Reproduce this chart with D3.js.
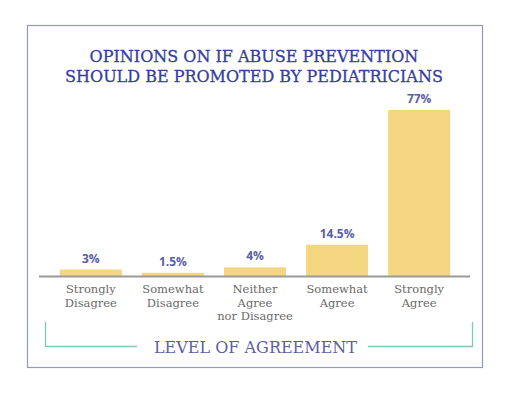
<!DOCTYPE html>
<html>
<head>
<meta charset="utf-8">
<script src="https://cdn.jsdelivr.net/npm/d3@7"></script>
<style>
  body { margin: 0; background: #fff; }
  svg { display: block; }
</style>
</head>
<body>
<div id="chart"></div>
<script>
const categories = [
    ["Strongly", "Disagree"],
    ["Somewhat", "Disagree"],
    ["Neither", "Agree", "nor Disagree"],
    ["Somewhat", "Agree"],
    ["Strongly", "Agree"]
];
const values = [3, 1.5, 4, 14.5, 77];
const valueLabels = ["3%", "1.5%", "4%", "14.5%", "77%"];
const titleLines = ["OPINIONS ON IF ABUSE PREVENTION", "SHOULD BE PROMOTED BY PEDIATRICIANS"];
const axisTitle = "LEVEL OF AGREEMENT";

const width = 512;
const height = 394;
const baseline = 276;

const colorBar = "#f5d680";
const colorTitle = "#34409a";
const colorValue = "#5a5ea8";
const colorCat = "#6a6a6a";
const colorBracket = "#80c6b9";

const svg = d3.select("#chart").append("svg")
    .attr("width", width)
    .attr("height", height);

// frame
svg.append("rect")
    .attr("x", 27.5)
    .attr("y", 25.5)
    .attr("width", 455)
    .attr("height", 342)
    .attr("fill", "none")
    .attr("stroke", "#8f98cb")
    .attr("stroke-width", 1.2);

svg.append("g")
    .selectAll("text")
    .data(titleLines)
    .enter()
    .append("text")
    .attr("x", 254)
    .attr("y", (d, i) => 62 + i * 20)
    .attr("text-anchor", "middle")
    .style("font-family", "'DejaVu Serif', serif")
    .style("font-size", "16px")
    .attr("fill", colorTitle)
    .attr("stroke", colorTitle)
    .attr("stroke-width", 0.3)
    .text(d => d);

const x = d3.scaleBand()
    .domain(d3.range(values.length))
    .range([50, 460])
    .paddingInner(0.245)
    .paddingOuter(0.12);

const y = d3.scaleLinear()
    .domain([0, 77])
    .range([baseline, 110]);

svg.append("g")
    .selectAll("rect")
    .data(values)
    .enter()
    .append("rect")
    .attr("x", (d, i) => x(i))
    .attr("y", d => y(d))
    .attr("width", x.bandwidth())
    .attr("height", d => baseline - y(d))
    .attr("fill", colorBar);

svg.append("line")
    .attr("x1", 39)
    .attr("x2", 470)
    .attr("y1", baseline + 0.5)
    .attr("y2", baseline + 0.5)
    .attr("stroke", "#9a9a9a")
    .attr("stroke-width", 1.8);

svg.append("g")
    .selectAll("text")
    .data(values)
    .enter()
    .append("text")
    .attr("x", (d, i) => x(i) + x.bandwidth() / 2)
    .attr("y", d => y(d) - 7)
    .attr("text-anchor", "middle")
    .style("font-family", "'Open Sans', sans-serif")
    .style("font-weight", "bold")
    .style("font-size", "12px")
    .attr("fill", colorValue)
    .text((d, i) => valueLabels[i]);

const catLabels = svg.append("g")
    .selectAll("text")
    .data(categories)
    .enter()
    .append("text")
    .attr("x", (d, i) => x(i) + x.bandwidth() / 2)
    .attr("y", 293)
    .attr("text-anchor", "middle")
    .style("font-family", "'DejaVu Serif', serif")
    .style("font-size", "11.5px")
    .attr("fill", colorCat);

catLabels.selectAll("tspan")
    .data(d => d)
    .enter()
    .append("tspan")
    .attr("x", function () { return d3.select(this.parentNode).attr("x"); })
    .attr("dy", (d, i) => i === 0 ? 0 : 13.5)
    .text(d => d);

// bracket under the categories
const bracket = svg.append("g")
    .attr("fill", "none")
    .attr("stroke", colorBracket)
    .attr("stroke-width", 1.3);

bracket.append("path")
    .attr("d", "M45.5,322 V346.5 H137");
bracket.append("path")
    .attr("d", "M368,346.5 H472.5 V322");

svg.append("text")
    .attr("x", 255.5)
    .attr("y", 353)
    .attr("text-anchor", "middle")
    .style("font-family", "'DejaVu Serif', serif")
    .style("font-size", "16px")
    .attr("fill", colorValue)
    .text(axisTitle);
</script>
</body>
</html>
